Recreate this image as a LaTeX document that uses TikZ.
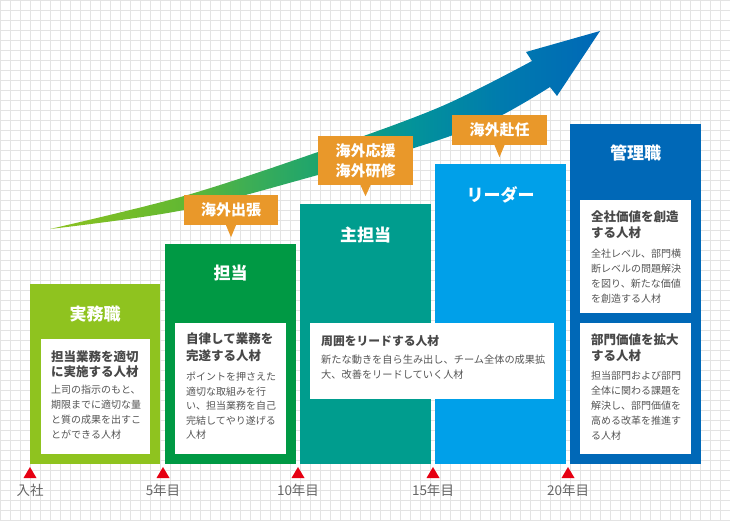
\documentclass[tikz,border=0pt]{standalone}
\usepackage{fontspec}
\setmainfont{Noto Sans CJK JP}
\definecolor{gridc}{HTML}{E3E3E3}
\definecolor{cA}{HTML}{8FC31F}
\definecolor{cB}{HTML}{009944}
\definecolor{cC}{HTML}{009D8E}
\definecolor{cD}{HTML}{00A0E9}
\definecolor{cE}{HTML}{0068B7}
\definecolor{corange}{HTML}{E9982A}
\definecolor{cred}{HTML}{E60012}
\definecolor{headc}{HTML}{484848}
\definecolor{bodyc}{HTML}{555555}
\definecolor{labc}{HTML}{666666}
\definecolor{ag1}{HTML}{8DC21F}
\definecolor{ag2}{HTML}{62B832}
\definecolor{ag3}{HTML}{3DAE55}
\definecolor{ag4}{HTML}{1AA370}
\definecolor{ag5}{HTML}{03939A}
\definecolor{ag6}{HTML}{007BAE}
\definecolor{ag7}{HTML}{0068B7}
\pgfdeclarehorizontalshading{arrowshade}{100bp}{color(0bp)=(ag1); color(25bp)=(ag1); color(37bp)=(ag2); color(43bp)=(ag3); color(50bp)=(ag4); color(58bp)=(ag5); color(66bp)=(ag6); color(75bp)=(ag7); color(100bp)=(ag7)}
\tikzset{
  gridline/.style={draw=gridc, line width=1.1pt},
  stagebox/.style={inner sep=0, outer sep=0, anchor=north west, draw=none},
  whitebox/.style={stagebox, fill=white},
  titletext/.style={text=white, font=\bfseries\fontsize{17}{20}\selectfont, inner sep=0, text height=13.6pt, text depth=1.2pt},
  headtext/.style={text=headc, font=\bfseries\fontsize{12.5}{15}\selectfont, inner sep=0, anchor=west, text height=10pt, text depth=0.9pt},
  bodytext/.style={text=bodyc, font=\fontsize{10}{12}\selectfont, inner sep=0, anchor=west, text height=8pt, text depth=0.7pt},
  callout/.style={fill=corange, text=white, font=\bfseries\fontsize{15}{20}\selectfont, inner sep=0, align=center},
  yearlabel/.style={text=labc, font=\fontsize{13.5}{15}\selectfont, inner sep=0, text height=10.8pt, text depth=1pt},
}
\begin{document}
\begin{tikzpicture}[x=1pt,y=-1pt]
\useasboundingbox (0,0) rectangle (730,521);
\fill[white] (0,0) rectangle (730,521);
% grid
\foreach \gx in {0,10,...,730} \draw[gridline] (\gx+0.5,0) -- (\gx+0.5,521);
\foreach \gy in {0,10,...,520} \draw[gridline] (0,\gy+0.5) -- (730,\gy+0.5);

% growth arrow
\shade[shading=arrowshade]
  plot[smooth, tension=0.55] coordinates {(50,229) (184,196) (318,152) (440,107) (532,61)}
  -- (526,52) -- (600,31) -- (557,96)
  -- plot[smooth, tension=0.55] coordinates {(550,87) (492,120) (414,148) (318,175) (184,210) (50,229)}
  -- cycle;

% stage boxes
\node[stagebox, fill=cA, minimum width=130, minimum height=180] (s1) at (30,284) {};
\node[stagebox, fill=cB, minimum width=131, minimum height=220] (s2) at (165,244) {};
\node[stagebox, fill=cC, minimum width=131, minimum height=260] (s3) at (300,204) {};
\node[stagebox, fill=cD, minimum width=131, minimum height=300] (s4) at (435,164) {};
\node[stagebox, fill=cE, minimum width=131, minimum height=340] (s5) at (570,124) {};

% titles
\node[titletext] (t1) at (95,314) {実務職};
\node[titletext] (t2) at (230.5,273) {担当};
\node[titletext] (t3) at (365.5,235) {主担当};
\node[titletext] (t4) at (500.5,195) {リーダー};
\node[titletext] (t5) at (635.5,153) {管理職};

% white inner boxes
\node[whitebox, minimum width=109, minimum height=115] (w1) at (41,339) {};
\node[whitebox, minimum width=111, minimum height=131] (w2) at (175,323) {};
\node[whitebox, minimum width=244, minimum height=76] (w3) at (310,323) {};
\node[whitebox, minimum width=111, minimum height=113] (w5a) at (580,200) {};
\node[whitebox, minimum width=111, minimum height=131] (w5b) at (580,323) {};

% box 1 texts
\node[headtext] (h1a) at (51,357) {担当業務を適切};
\node[headtext] (h1b) at (51,372) {に実施する人材};
\foreach \s [count=\i] in {上司の指示のもと、,期限までに適切な量,と質の成果を出すこ,とができる人材}
  \node[bodytext] (b1-\i) at (51,{390+15*(\i-1)}) {\s};

% box 2 texts
\node[headtext] (h2a) at (186,339) {自律して業務を};
\node[headtext] (h2b) at (186,356) {完遂する人材};
\foreach \s [count=\i] in {ポイントを押さえた,適切な取組みを行,い、担当業務を自己,完結してやり遂げる,人材}
  \node[bodytext] (b2-\i) at (186,{377+14.5*(\i-1)}) {\s};

% box 3 texts
\node[headtext, font=\bfseries\fontsize{11.8}{15}\selectfont] (h3a) at (321,341) {周囲をリードする人材};
\node[bodytext, font=\fontsize{10.2}{12}\selectfont] (b3-1) at (321,360) {新たな動きを自ら生み出し、チーム全体の成果拡};
\node[bodytext, font=\fontsize{10.2}{12}\selectfont] (b3-2) at (321,375) {大、改善をリードしていく人材};

% box 5 texts
\node[headtext] (h5a) at (591,217) {全社価値を創造};
\node[headtext] (h5b) at (591,233) {する人材};
\foreach \s [count=\i] in {全社レベル、部門横,断レベルの問題解決,を図り、新たな価値,を創造する人材}
  \node[bodytext] (b5-\i) at (591,{254+15*(\i-1)}) {\s};
\node[headtext] (h6a) at (591,340) {部門価値を拡大};
\node[headtext] (h6b) at (591,356) {する人材};
\foreach \s [count=\i] in {担当部門および部門,全体に関わる課題を,解決し、部門価値を,高める改革を推進す,る人材}
  \node[bodytext] (b6-\i) at (591,{376+15*(\i-1)}) {\s};

% callouts
\node[callout, minimum width=94, minimum height=30] (k1) at (231,210) {海外出張};
\fill[corange] ([xshift=-5pt]k1.south) -- ([yshift=-12pt]k1.south) -- ([xshift=5pt]k1.south) -- cycle;
\node[callout, minimum width=95, minimum height=49] (k2) at (365.5,160.5) {海外応援\\海外研修};
\fill[corange] ([xshift=-5pt]k2.south) -- ([yshift=-11pt]k2.south) -- ([xshift=5pt]k2.south) -- cycle;
\node[callout, minimum width=95, minimum height=30] (k3) at (499.5,130) {海外赴任};
\fill[corange] ([xshift=-5pt]k3.south) -- ([yshift=-12pt]k3.south) -- ([xshift=5pt]k3.south) -- cycle;

% timeline markers
\foreach \mx/\lab [count=\i] in {30/入社,163/5年目,298/10年目,433/15年目,568/20年目} {
  \fill[cred] (\mx-6.5,478) -- (\mx,467) -- (\mx+6.5,478) -- cycle;
  \node[yearlabel] (y\i) at (\mx,491) {\lab};
}
\end{tikzpicture}
\end{document}
